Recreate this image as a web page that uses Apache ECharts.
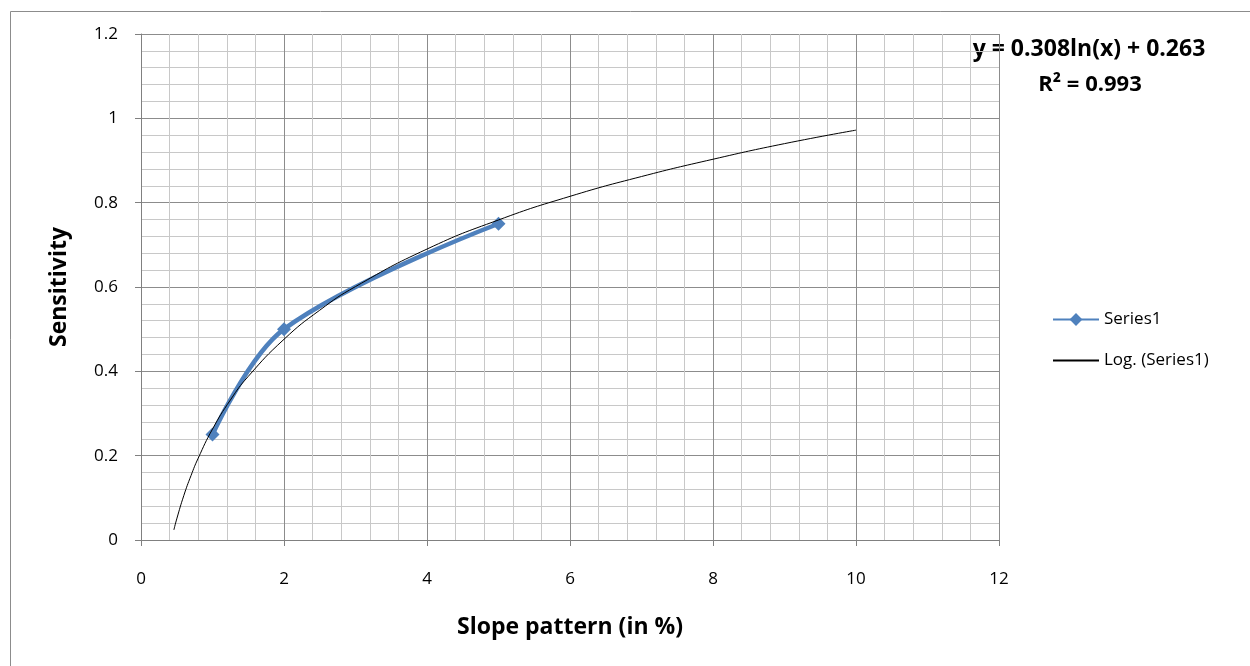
<!DOCTYPE html>
<html><head><meta charset="utf-8">
<script src="https://cdn.jsdelivr.net/npm/echarts@6/dist/echarts.min.js"></script>
<style>html,body{margin:0;padding:0;background:#fff}#c{width:1250px;height:666px}</style>
</head><body><div id="c"></div>
<script>
// Data
const seriesX = [1, 2, 5];
const seriesY = [0.25, 0.5, 0.75];
const trendX = [0.46, 0.5, 0.6, 0.7, 0.8, 1, 1.25, 1.5, 2, 2.5, 3, 4, 5, 6, 7, 8, 9, 10];
const trendY = [0.024, 0.050, 0.106, 0.153, 0.194, 0.263, 0.332, 0.388, 0.476, 0.545, 0.601, 0.690, 0.759, 0.815, 0.862, 0.903, 0.940, 0.972];
const xTicks = [0, 2, 4, 6, 8, 10, 12];
const yTicks = [0, 0.2, 0.4, 0.6, 0.8, 1, 1.2];
const equationText = 'y = 0.308ln(x) + 0.263';
const r2Text = 'R² = 0.993';

const FONT = '"Open Sans", Lato, sans-serif';
const chart = echarts.init(document.getElementById('c'));
chart.setOption({
  animation: false,
  backgroundColor: '#fff',
  grid: { left: 141, top: 34, width: 858, height: 506, containLabel: false },
  xAxis: {
    type: 'value', min: xTicks[0], max: xTicks[xTicks.length - 1], interval: 2,
    axisLine: { show: true, onZero: false, lineStyle: { color: '#808080', width: 1 } },
    axisTick: { show: true, length: 6, lineStyle: { color: '#808080' } },
    axisLabel: { color: '#000', fontSize: 17, fontFamily: FONT, margin: 31 },
    splitLine: { show: true, lineStyle: { color: '#8c8c8c', width: 1 } },
    minorTick: { show: false, splitNumber: 5 },
    minorSplitLine: { show: true, lineStyle: { color: '#c8c8c8', width: 1 } },
    name: 'Slope pattern (in %)', nameLocation: 'middle', nameGap: 76,
    nameTextStyle: { color: '#000', fontSize: 23, fontWeight: 'bold', fontFamily: FONT }
  },
  yAxis: {
    type: 'value', min: yTicks[0], max: yTicks[yTicks.length - 1], interval: 0.2,
    axisLine: { show: true, lineStyle: { color: '#808080', width: 1 } },
    axisTick: { show: true, length: 6, lineStyle: { color: '#808080' } },
    axisLabel: { color: '#000', fontSize: 17, fontFamily: FONT, margin: 23 },
    splitLine: { show: true, lineStyle: { color: '#8c8c8c', width: 1 } },
    minorTick: { show: false, splitNumber: 5 },
    minorSplitLine: { show: true, lineStyle: { color: '#c8c8c8', width: 1 } },
    name: 'Sensitivity', nameLocation: 'middle', nameGap: 70, nameRotate: 90,
    nameTextStyle: { color: '#000', fontSize: 23, fontWeight: 'bold', fontFamily: FONT }
  },
  legend: {
    orient: 'vertical', left: 1047, top: 306, itemWidth: 46, itemHeight: 16, itemGap: 24,
    textStyle: { color: '#000', fontSize: 17, fontFamily: FONT },
    data: [
      { name: 'Series1' },
      { name: 'Log. (Series1)', itemStyle: { opacity: 0 } }
    ]
  },
  series: [
    {
      name: 'Series1', type: 'line', smooth: 0.35,
      data: seriesX.map((x, i) => [x, seriesY[i]]),
      symbol: 'diamond', symbolSize: 14,
      lineStyle: { color: '#4f81bd', width: 4.5 },
      itemStyle: { color: '#4f81bd' },
      z: 3
    },
    {
      name: 'Log. (Series1)', type: 'line', smooth: true,
      data: trendX.map((x, i) => [x, trendY[i]]),
      symbol: 'none',
      lineStyle: { color: '#000', width: 1 },
      itemStyle: { color: '#000' },
      z: 4
    }
  ],
  graphic: [
    { type: 'rect', left: 8, top: 9, shape: { width: 1300, height: 700 }, style: { fill: 'none', stroke: '#8c8c8c', lineWidth: 1 }, silent: true, z: -1 },
    { type: 'text', style: { text: equationText, x: 1089, y: 49, align: 'center', verticalAlign: 'middle', fill: '#000', font: 'bold 23px ' + FONT } },
    { type: 'text', style: { text: r2Text, x: 1090, y: 85, align: 'center', verticalAlign: 'middle', fill: '#000', font: 'bold 22px ' + FONT } }
  ]
});
</script></body></html>
